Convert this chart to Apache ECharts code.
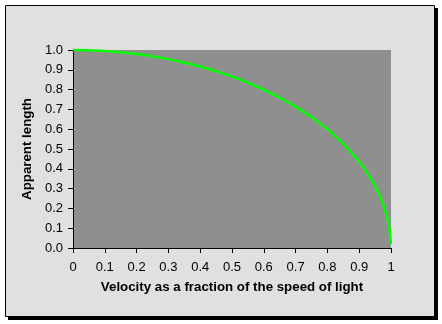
<!DOCTYPE html>
<html>
<head>
<meta charset="utf-8">
<style>
  html, body { margin: 0; padding: 0; background: #ffffff; }
  #chart { width: 442px; height: 324px; }
</style>
<script src="https://cdn.jsdelivr.net/npm/echarts@6/dist/echarts.min.js"></script>
</head>
<body>
<div id="chart"></div>
<script>
// Length contraction: apparent length vs. velocity (fraction of c)
const velocity = [0, 0.05, 0.1, 0.15, 0.2, 0.25, 0.3, 0.35, 0.4, 0.45, 0.5, 0.55, 0.6,
  0.65, 0.7, 0.75, 0.8, 0.85, 0.9, 0.92, 0.94, 0.96, 0.97, 0.98, 0.99, 0.995, 1.0];
const apparentLength = [1.0, 0.999, 0.995, 0.989, 0.98, 0.968, 0.954, 0.937, 0.917, 0.893,
  0.866, 0.835, 0.8, 0.76, 0.714, 0.661, 0.6, 0.527, 0.436, 0.392, 0.341, 0.28, 0.243,
  0.199, 0.141, 0.1, 0.02];

const xTickLabels = ['0', '0.1', '0.2', '0.3', '0.4', '0.5', '0.6', '0.7', '0.8', '0.9', '1'];
const yTickLabels = ['0.0', '0.1', '0.2', '0.3', '0.4', '0.5', '0.6', '0.7', '0.8', '0.9', '1.0'];

const xTitle = 'Velocity as a fraction of the speed of light';
const yTitle = 'Apparent length';

const FONT = '"Liberation Sans", Arial, sans-serif';

const points = velocity.map((v, i) => [v, apparentLength[i]]);

const chart = echarts.init(document.getElementById('chart'), null, { renderer: 'canvas' });

chart.setOption({
  animation: false,
  graphic: [
    { type: 'rect', z: -20, silent: true,
      shape: { x: 8, y: 8, width: 430, height: 312 },
      style: { fill: '#000000' } },
    { type: 'rect', z: -19, silent: true,
      shape: { x: 5.5, y: 5.5, width: 429, height: 311 },
      style: { fill: '#e0e0e0', stroke: '#000000', lineWidth: 1 } }
  ],
  grid: {
    left: 73, top: 50, width: 318, height: 198,
    show: true, backgroundColor: '#8f8f8f', borderWidth: 0
  },
  xAxis: {
    type: 'value', min: 0, max: 1, interval: 0.1,
    name: xTitle, nameLocation: 'middle', nameGap: 33,
    nameTextStyle: { fontFamily: FONT, fontSize: 13.3, fontWeight: 'bold', color: '#000' },
    axisLine: { show: true, onZero: false, lineStyle: { color: '#000', width: 1 } },
    axisTick: { show: true, inside: false, length: 5, lineStyle: { color: '#000' } },
    axisLabel: {
      margin: 13, fontFamily: FONT, fontSize: 13, color: '#000',
      formatter: (v, i) => xTickLabels[i]
    },
    splitLine: { show: false }
  },
  yAxis: {
    type: 'value', min: 0, max: 1, interval: 0.1,
    name: yTitle, nameLocation: 'middle', nameGap: 37, nameRotate: 90,
    nameTextStyle: { fontFamily: FONT, fontSize: 13.3, fontWeight: 'bold', color: '#000' },
    axisLine: { show: true, onZero: false, lineStyle: { color: '#000', width: 1 } },
    axisTick: { show: true, inside: false, length: 5, lineStyle: { color: '#000' } },
    axisLabel: {
      margin: 10, fontFamily: FONT, fontSize: 13, color: '#000',
      formatter: (v, i) => yTickLabels[i]
    },
    splitLine: { show: false }
  },
  series: [{
    type: 'line',
    data: points,
    showSymbol: false,
    smooth: false,
    clip: false,
    lineStyle: { color: '#00ff00', width: 2.5 }
  }]
});
</script>
</body>
</html>
